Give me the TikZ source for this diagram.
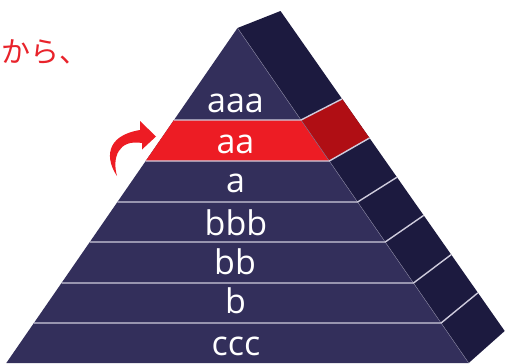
\documentclass[tikz,border=0pt]{standalone}
\usepackage{fontspec}
\setmainfont{Open Sans}
\newfontfamily\jpfont{Noto Sans CJK JP}
\definecolor{frontc}{HTML}{332F5B}
\definecolor{sidec}{HTML}{1C1A3F}
\definecolor{bandred}{HTML}{ED1C24}
\definecolor{sidered}{HTML}{B00E14}
\definecolor{sepc}{HTML}{CFCCDD}
\definecolor{jpred}{HTML}{E8232B}
\begin{document}
\begin{tikzpicture}[x=1pt,y=-1pt,
  lbl/.style={text=white,font=\fontsize{34}{34}\selectfont,anchor=base,inner sep=0pt},
  sepline/.style={draw=sepc,line width=1.4pt},
  jptext/.style={text=jpred,font=\jpfont\fontsize{29}{29}\selectfont,anchor=west,inner sep=0pt}]
\useasboundingbox (0,0) rectangle (506,364);
% apex and back top
\coordinate (A) at (237.5,28);
\coordinate (T) at (280.5,11);
% level points: left front, right front, side back
\coordinate (L1) at (174.0,120); \coordinate (R1) at (301.0,120); \coordinate (S1) at (342.1,98.9);
\coordinate (L2) at (145.7,161); \coordinate (R2) at (329.3,161); \coordinate (S2) at (369.5,138.0);
\coordinate (L3) at (117.4,202); \coordinate (R3) at (357.6,202); \coordinate (S3) at (397.0,177.2);
\coordinate (L4) at (89.8,242);  \coordinate (R4) at (385.2,242); \coordinate (S4) at (423.7,215.4);
\coordinate (L5) at (61.5,283);  \coordinate (R5) at (413.5,283); \coordinate (S5) at (451.2,254.6);
\coordinate (L6) at (33.9,323);  \coordinate (R6) at (441.1,323); \coordinate (S6) at (477.9,292.8);
\coordinate (L7) at (6.3,363);   \coordinate (R7) at (468.7,363); \coordinate (S7) at (504.7,331);
% faces
\fill[sidec] (A) -- (T) -- (S7) -- (R7) -- cycle;
\fill[frontc] (A) -- (R7) -- (L7) -- cycle;
% highlighted band
\fill[bandred] (L1) -- (R1) -- (R2) -- (L2) -- cycle;
\fill[sidered] (R1) -- (S1) -- (S2) -- (R2) -- cycle;
% edge between faces
\draw[draw=frontc!60!white,line width=0.4pt] (A) -- (R7);
% separators
\foreach \i in {1,...,6}{
  \draw[sepline] (L\i) -- (R\i) -- (S\i);
}
% labels
\node[lbl] (taaa) at (235.5,112) {aaa};
\node[lbl] (taa)  at (235.5,153) {aa};
\node[lbl] (ta)   at (235.5,192) {a};
\node[lbl] (tbbb) at (236,235) {bbb};
\node[lbl] (tbb)  at (235,274) {bb};
\node[lbl] (tb)   at (235.5,313) {b};
\node[lbl] (tccc) at (236,355) {ccc};
% japanese text
\node[jptext] (jp) at (1,52) {から、};
% curved arrow
\coordinate (tail) at (117,176);
\fill[bandred] (tail) .. controls (106,160) and (104,136) .. (140,130)
  -- (140,121) -- (156,136.5) -- (142,149.5) -- (142,143)
  .. controls (118,139) and (112,158) .. (tail) -- cycle;
\end{tikzpicture}
\end{document}
